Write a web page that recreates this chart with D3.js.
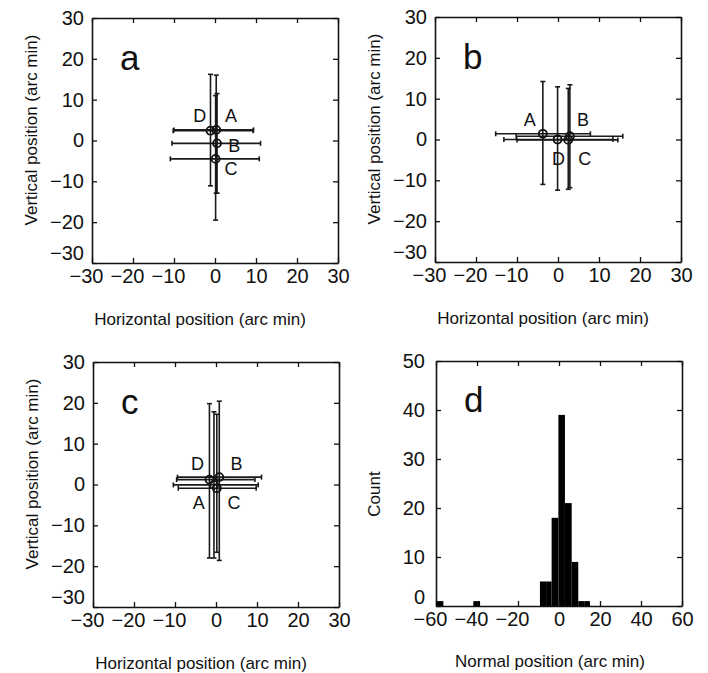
<!DOCTYPE html>
<html>
<head>
<meta charset="utf-8">
<script src="https://cdn.jsdelivr.net/npm/d3@7"></script>
<style>
body{margin:0;background:#fff}
text{font-family:"Liberation Sans",Arial,sans-serif;fill:#111}
</style>
</head>
<body>
<script>
var w=708, h=673;

// point names, shared by the three scatter panels
var names=["A","B","C","D"];

// panel a
var aX=[0.3,0.5,0.15,-1.1];
var aY=[2.6,-0.7,-4.5,2.4];
var aXlo=[-10.0,-10.5,-10.9,-10.2];
var aXhi=[9.4,11.1,10.8,9.3];
var aYlo=[-12.9,-12.9,-19.5,-11.1];
var aYhi=[16.0,11.5,11.0,16.2];
var aLabX=[3.9,4.7,3.9,-3.7];
var aLabY=[6.0,-1.15,-6.9,6.0];

// panel b
var bX=[-3.7,2.9,2.5,-0.1];
var bY=[1.4,0.8,-0.1,0.0];
var bXlo=[-15.2,-10.2,-10.0,-13.2];
var bXhi=[7.9,15.8,14.6,13.4];
var bYlo=[-11.0,-11.8,-12.2,-12.4];
var bYhi=[14.2,13.4,12.5,12.9];
var bLabX=[-6.9,6.1,6.5,0.1];
var bLabY=[4.8,4.8,-4.7,-4.7];

// panel c
var cX=[-0.5,0.8,0.2,-1.6];
var cY=[-0.1,1.8,-0.9,1.2];
var cXlo=[-10.4,-9.4,-9.2,-9.6];
var cXhi=[10.3,11.1,9.8,9.5];
var cYlo=[-18.0,-18.6,-16.6,-18.0];
var cYhi=[17.8,20.4,17.2,19.8];
var cLabX=[-4.2,5.0,4.4,-4.5];
var cLabY=[-4.4,5.2,-4.4,5.2];

// panel d histogram
var binStart=[-59.7,-41.8,-9.3,-6.3,-3.6,-0.3,2.9,6.2,9.4,12.3];
var binEnd=[-56.4,-38.5,-6.3,-3.6,-0.3,2.9,6.2,9.4,12.3,15.1];
var counts=[1,1,5,5,18,39,21,9,1,1];

var posTicks=[-30,-20,-10,0,10,20,30];
var dXTicks=[-60,-40,-20,0,20,40,60];
var dYTicks=[0,10,20,30,40,50];

var svg=d3.select("body").append("svg")
	.attr("width",w)
	.attr("height",h);
svg.append("rect").attr("width",w).attr("height",h).attr("fill","#fff");

function frame(g,x,y,xt,yt,pad){
	var bw=x.range()[1]-x.range()[0], bh=y.range()[0]-y.range()[1];
	var bottom=g.append("g").attr("transform","translate(0,"+bh+")")
		.call(d3.axisBottom(x).tickValues(xt).tickSizeInner(-5).tickSizeOuter(0).tickPadding(6));
	bottom.selectAll("text").attr("dx",function(d){return d<0?"-0.3em":0;});
	var left=g.append("g")
		.call(d3.axisLeft(y).tickValues(yt).tickSizeInner(-5).tickSizeOuter(0).tickPadding(pad));
	g.append("g").attr("transform","translate("+bw+",0)")
		.call(d3.axisRight(y).tickValues(yt).tickSizeInner(-5).tickSizeOuter(0).tickFormat(""));
	g.append("g")
		.call(d3.axisTop(x).tickValues(xt).tickSizeInner(-5).tickSizeOuter(0).tickFormat(""));
	g.selectAll(".domain").attr("stroke","#111").attr("stroke-width",1.6);
	g.selectAll(".tick line").attr("stroke","#111").attr("stroke-width",1.3);
	g.selectAll(".tick text").attr("font-size",20).attr("font-family","Liberation Sans, Arial, sans-serif").attr("fill","#111");
	return left;
}

function scatterPanel(px,py,X,Y,Xlo,Xhi,Ylo,Yhi,LX,LY,letter){
	var g=svg.append("g").attr("transform","translate("+px+","+py+")");
	var x=d3.scaleLinear().domain([-30,30]).range([0,246]);
	var y=d3.scaleLinear().domain([-30,30]).range([245,0]);
	var left=frame(g,x,y,posTicks,posTicks,8);
	// lowest y label is nudged up off the x labels
	left.selectAll(".tick text").filter(function(d){return d==-30;}).attr("y",-10);

	var idx=d3.range(names.length);
	var cap=2.5;
	var eb=g.append("g").attr("stroke","#1a1a1a").attr("stroke-width",1.6).attr("fill","none");
	idx.forEach(function(i){
		eb.append("line").attr("x1",x(Xlo[i])).attr("x2",x(Xhi[i])).attr("y1",y(Y[i])).attr("y2",y(Y[i]));
		eb.append("line").attr("x1",x(Xlo[i])).attr("x2",x(Xlo[i])).attr("y1",y(Y[i])-cap).attr("y2",y(Y[i])+cap);
		eb.append("line").attr("x1",x(Xhi[i])).attr("x2",x(Xhi[i])).attr("y1",y(Y[i])-cap).attr("y2",y(Y[i])+cap);
		eb.append("line").attr("x1",x(X[i])).attr("x2",x(X[i])).attr("y1",y(Ylo[i])).attr("y2",y(Yhi[i]));
		eb.append("line").attr("x1",x(X[i])-cap).attr("x2",x(X[i])+cap).attr("y1",y(Ylo[i])).attr("y2",y(Ylo[i]));
		eb.append("line").attr("x1",x(X[i])-cap).attr("x2",x(X[i])+cap).attr("y1",y(Yhi[i])).attr("y2",y(Yhi[i]));
	});
	g.selectAll("circle.pt")
		.data(idx)
		.enter()
		.append("circle")
			.attr("class","pt")
			.attr("cx",function(i){return x(X[i]);})
			.attr("cy",function(i){return y(Y[i]);})
			.attr("r",4)
			.attr("fill","none")
			.attr("stroke","#111")
			.attr("stroke-width",1.8);
	g.selectAll("text.nm")
		.data(idx)
		.enter()
		.append("text")
			.attr("class","nm")
			.attr("x",function(i){return x(LX[i]);})
			.attr("y",function(i){return y(LY[i]);})
			.attr("dy","0.36em")
			.attr("text-anchor","middle")
			.attr("font-size",18)
			.text(function(i){return names[i];});
	g.append("text").attr("x",28).attr("y",52).attr("font-size",35).text(letter);

	g.append("text")
		.attr("x",108).attr("y",307)
		.attr("text-anchor","middle").attr("font-size",17)
		.text("Horizontal position (arc min)");
	g.append("text")
		.attr("transform","translate(-55,112) rotate(-90)")
		.attr("text-anchor","middle").attr("font-size",17)
		.text("Vertical position (arc min)");
}

scatterPanel(92,18,aX,aY,aXlo,aXhi,aYlo,aYhi,aLabX,aLabY,"a");
scatterPanel(435,17,bX,bY,bXlo,bXhi,bYlo,bYhi,bLabX,bLabY,"b");
scatterPanel(93,362,cX,cY,cXlo,cXhi,cYlo,cYhi,cLabX,cLabY,"c");

// panel d
var gd=svg.append("g").attr("transform","translate(436,361)");
var xd=d3.scaleLinear().domain([-60,60]).range([0,246]);
var yd=d3.scaleLinear().domain([0,50]).range([245,0]);
gd.selectAll("rect.bar")
	.data(counts)
	.enter()
	.append("rect")
		.attr("class","bar")
		.attr("x",function(d,i){return xd(binStart[i]);})
		.attr("y",function(d){return yd(d);})
		.attr("width",function(d,i){return xd(binEnd[i])-xd(binStart[i]);})
		.attr("height",function(d){return yd(0)-yd(d);})
		.attr("fill","#000");
var leftd=frame(gd,xd,yd,dXTicks,dYTicks,11);
leftd.selectAll(".tick text").filter(function(d){return d==0;}).attr("y",-9);
gd.append("text").attr("x",28).attr("y",51).attr("font-size",35).text("d");
gd.append("text")
	.attr("x",114).attr("y",306)
	.attr("text-anchor","middle").attr("font-size",17)
	.text("Normal position (arc min)");
gd.append("text")
	.attr("transform","translate(-56,133) rotate(-90)")
	.attr("text-anchor","middle").attr("font-size",17)
	.text("Count");
</script>
</body>
</html>
